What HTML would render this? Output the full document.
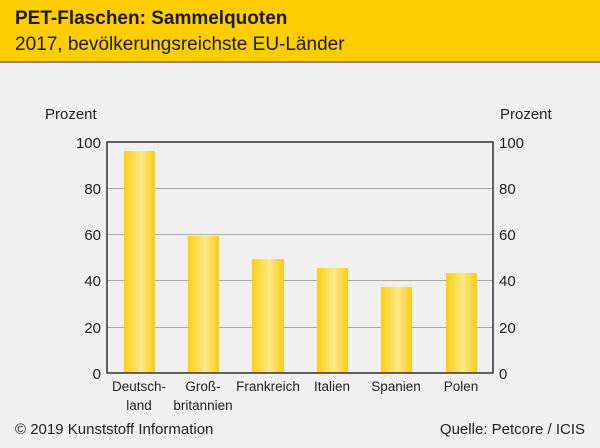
<!DOCTYPE html>
<html><head><meta charset="utf-8"><style>
body{margin:0;width:600px;height:443px;background:#eff0ef;font-family:"Liberation Sans",sans-serif;overflow:hidden}
</style></head><body>
<svg width="600" height="443" xmlns="http://www.w3.org/2000/svg" font-family="Liberation Sans, sans-serif">
<defs><linearGradient id="g" x1="0" x2="1" y1="0" y2="0">
<stop offset="0" stop-color="#f9cf12"/><stop offset="0.55" stop-color="#fde98a"/><stop offset="1" stop-color="#f7cc10"/></linearGradient></defs>
<rect x="0" y="0" width="600" height="61" fill="#fecd00"/>
<rect x="0" y="61" width="600" height="2" fill="#8a8a8a"/>
<text x="15" y="24" font-size="19" font-weight="bold" fill="#1a1a1a">PET-Flaschen: Sammelquoten</text>
<text x="15" y="50" font-size="19" fill="#1a1a1a">2017, bevölkerungsreichste EU-Länder</text>
<text x="45" y="119" font-size="15" fill="#222">Prozent</text>
<text x="500" y="119" font-size="15" fill="#222">Prozent</text>
<g stroke="#aaa" stroke-width="1">
<line x1="107" x2="493" y1="188.5" y2="188.5"/><line x1="107" x2="493" y1="234.5" y2="234.5"/>
<line x1="107" x2="493" y1="280.5" y2="280.5"/><line x1="107" x2="493" y1="327.5" y2="327.5"/>
</g>
<g fill="url(#g)">
<rect x="124" y="151" width="31" height="222"/>
<rect x="188" y="236" width="31" height="137"/>
<rect x="252" y="259" width="32" height="114"/>
<rect x="317" y="268" width="31" height="105"/>
<rect x="381" y="287" width="31" height="86"/>
<rect x="446" y="273" width="31" height="100"/>
</g>
<path d="M107 142H493V373H107Z" fill="none" stroke="#333" stroke-width="1.5"/>
<g font-size="15" fill="#222" text-anchor="end">
<text x="101" y="148">100</text><text x="101" y="194">80</text><text x="101" y="240">60</text>
<text x="101" y="286">40</text><text x="101" y="333">20</text><text x="101" y="379">0</text>
</g>
<g font-size="15" fill="#222">
<text x="499" y="148">100</text><text x="499" y="194">80</text><text x="499" y="240">60</text>
<text x="499" y="286">40</text><text x="499" y="333">20</text><text x="499" y="379">0</text>
</g>
<g font-size="13.5" fill="#222" text-anchor="middle">
<text x="139" y="391">Deutsch-</text><text x="139" y="410">land</text>
<text x="203" y="391">Groß-</text><text x="203" y="410">britannien</text>
<text x="268" y="391">Frankreich</text>
<text x="332" y="391">Italien</text>
<text x="396" y="391">Spanien</text>
<text x="461" y="391">Polen</text>
</g>
<text x="15" y="434" font-size="15" fill="#222">© 2019 Kunststoff Information</text>
<text x="585" y="434" font-size="15" fill="#222" text-anchor="end">Quelle: Petcore / ICIS</text>
</svg>
</body></html>
